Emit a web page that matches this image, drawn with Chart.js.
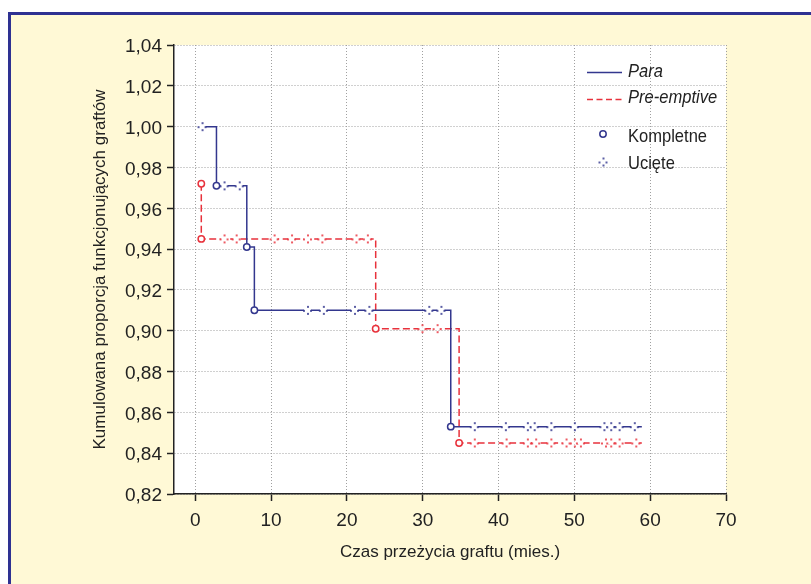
<!DOCTYPE html>
<html>
<head>
<meta charset="utf-8">
<script src="https://cdn.jsdelivr.net/npm/chart.js@4/dist/chart.umd.min.js"></script>
<style>
  html, body { margin: 0; padding: 0; background: #ffffff; overflow: hidden; }
  #frame { position: absolute; left: 8px; top: 12px; width: 900px; height: 700px;
           background: #fff9d6; border-left: 3px solid #2e3192; border-top: 3px solid #2e3192; }
  #wrap { position: absolute; left: 0; top: 0; width: 811px; height: 584px; }
</style>
</head>
<body>
<div id="frame"></div>
<div id="wrap"><canvas id="c" width="811" height="584"></canvas></div>
<script>
// ---- data ----
const xTicks = [0, 10, 20, 30, 40, 50, 60, 70];
const yTicks = [0.82, 0.84, 0.86, 0.88, 0.90, 0.92, 0.94, 0.96, 0.98, 1.00, 1.02, 1.04];

const seriesNames = ['Para', 'Pre-emptive'];
const markerNames = ['Kompletne', 'Ucięte'];

// Kaplan-Meier step curves: time (months) and cumulative proportion
const paraTimes = [0.9, 2.8, 6.8, 7.8, 33.7, 58.9];
const paraSurv  = [1.000, 0.971, 0.941, 0.910, 0.853, 0.853];
const preTimes  = [0.8, 0.8, 23.8, 34.8, 58.9];
const preSurv   = [0.972, 0.945, 0.901, 0.845, 0.845];

// complete (event) times
const paraEvents = [2.8, 6.8, 7.8, 33.7];
const preEventTimes = [0.8, 0.8, 23.8, 34.8];
const preEventSurv  = [0.972, 0.945, 0.901, 0.845];

// censored times
const paraCensored = [0.9, 3.8, 5.8, 14.8, 16.9, 21.0, 22.9, 30.8, 32.4,
                      36.8, 40.9, 43.8, 44.7, 46.9, 50.0, 53.9, 54.8, 55.9, 57.9];
const preCensored  = [3.8, 5.4, 10.4, 12.7, 14.8, 16.7, 21.2, 22.7, 29.9, 31.9,
                      36.8, 41.0, 43.8, 44.9, 46.9, 48.9, 50.0, 50.8, 54.1, 54.8, 55.9, 58.1];

// ---- styles ----
const BLUE = '#33378e';
const RED = '#e8323c';
const FONT = "'Liberation Sans', Arial, sans-serif";

function survAt(times, surv, t) {
  let v = surv[0];
  for (let i = 0; i < times.length; i++) if (times[i] <= t) v = surv[i];
  return v;
}
function toPts(xs, ys) { return xs.map((x, i) => ({ x: x, y: ys[i] })); }

function censorMark(color) {
  const c = document.createElement('canvas');
  c.width = 11; c.height = 11;
  const g = c.getContext('2d');
  g.fillStyle = '#ffffff';
  g.fillRect(2, 4, 7, 3);
  g.fillStyle = color;
  g.globalAlpha = 0.8;
  [[5, 1], [5, 8], [1, 5], [8, 5]].forEach(p => g.fillRect(p[0], p[1], 2, 2));
  return c;
}
const censorBlue = censorMark(BLUE);
const censorRed = censorMark(RED);

const plotBg = {
  id: 'plotBg',
  beforeDraw(chart) {
    const a = chart.chartArea, ctx = chart.ctx;
    ctx.save();
    ctx.fillStyle = '#ffffff';
    ctx.fillRect(a.left, a.top, a.right - a.left, a.bottom - a.top);
    ctx.restore();
  }
};

function narrowText(ctx, text, x, y, sx) {
  ctx.save();
  ctx.translate(x, y);
  ctx.scale(sx, 1);
  ctx.fillText(text, 0, 0);
  ctx.restore();
}

const legendPlugin = {
  id: 'kmLegend',
  afterDatasetsDraw(chart) {
    const ctx = chart.ctx;
    ctx.save();
    ctx.textBaseline = 'middle';
    ctx.textAlign = 'left';
    const tx = 628, sx = 0.87;
    // Para line
    ctx.strokeStyle = BLUE; ctx.lineWidth = 1.5; ctx.setLineDash([]);
    ctx.beginPath(); ctx.moveTo(587, 72.5); ctx.lineTo(622, 72.5); ctx.stroke();
    ctx.fillStyle = '#222';
    ctx.font = 'italic 19px ' + FONT;
    narrowText(ctx, seriesNames[0], tx, 71.5, sx);
    // Pre-emptive dashed
    ctx.strokeStyle = RED; ctx.setLineDash([6, 3.5]);
    ctx.beginPath(); ctx.moveTo(587, 99.5); ctx.lineTo(622, 99.5); ctx.stroke();
    ctx.setLineDash([]);
    narrowText(ctx, seriesNames[1], tx, 97.5, sx);
    // Kompletne circle
    ctx.beginPath(); ctx.arc(603, 134, 3.2, 0, Math.PI * 2);
    ctx.fillStyle = '#fff'; ctx.fill();
    ctx.strokeStyle = BLUE; ctx.lineWidth = 1.5; ctx.stroke();
    ctx.fillStyle = '#222';
    ctx.font = '19px ' + FONT;
    narrowText(ctx, markerNames[0], tx, 137, sx);
    // Ucięte marker
    ctx.drawImage(censorBlue, 603 - 5.5, 162 - 5.5);
    narrowText(ctx, markerNames[1], tx, 163.5, sx);
    ctx.restore();
  }
};

const ctx = document.getElementById('c').getContext('2d');
new Chart(ctx, {
  type: 'scatter',
  data: {
    datasets: [
      { label: 'Para kompletne', data: paraEvents.map(t => ({ x: t, y: survAt(paraTimes, paraSurv, t) })),
        showLine: false, pointStyle: 'circle', pointRadius: 3.2, pointBackgroundColor: '#fff',
        pointBorderColor: BLUE, pointBorderWidth: 1.5 },
      { label: 'Pre-emptive kompletne', data: toPts(preEventTimes, preEventSurv),
        showLine: false, pointStyle: 'circle', pointRadius: 3.2, pointBackgroundColor: '#fff',
        pointBorderColor: RED, pointBorderWidth: 1.5 },
      { label: 'Para ucięte', data: paraCensored.map(t => ({ x: t, y: survAt(paraTimes, paraSurv, t) })),
        showLine: false, pointStyle: censorBlue, pointRadius: 5 },
      { label: 'Pre-emptive ucięte', data: preCensored.map(t => ({ x: t, y: survAt(preTimes, preSurv, t) })),
        showLine: false, pointStyle: censorRed, pointRadius: 5 },
      { label: seriesNames[0], data: toPts(paraTimes, paraSurv), showLine: true, stepped: 'before',
        borderColor: BLUE, borderWidth: 1.5, pointRadius: 0, fill: false },
      { label: seriesNames[1], data: toPts(preTimes, preSurv), showLine: true, stepped: 'before',
        borderColor: RED, borderWidth: 1.5, borderDash: [7, 3.5], pointRadius: 0, fill: false }
    ]
  },
  options: {
    responsive: false,
    animation: false,
    events: [],
    layout: { padding: { left: 0, top: 45, right: 85, bottom: 0 } },
    plugins: { legend: { display: false }, tooltip: { enabled: false } },
    scales: {
      x: {
        type: 'linear', min: -2.8, max: 70,
        afterBuildTicks(s) { s.ticks = xTicks.map(v => ({ value: v })); },
        afterFit(s) { s.height = 90; },
        ticks: { color: '#222', font: { family: FONT, size: 19 }, padding: 8,
                 callback: v => String(v) },
        grid: { color: '#a0a0a0', lineWidth: 1, tickColor: '#222', tickLength: 7, tickWidth: 1.5, tickBorderDash: [] },
        border: { color: '#222', width: 1.5, dash: [1, 2] },
        title: { display: true, text: 'Czas przeżycia graftu (mies.)', color: '#222',
                 font: { family: FONT, size: 17 }, padding: { top: 0, bottom: 21 } }
      },
      y: {
        type: 'linear', min: 0.82, max: 1.04,
        afterBuildTicks(s) { s.ticks = yTicks.map(v => ({ value: v })); },
        afterFit(s) { s.width = 174; },
        ticks: { color: '#222', font: { family: FONT, size: 19 }, padding: 5, labelOffset: 2,
                 callback: v => v.toFixed(2).replace('.', ',') },
        grid: { color: '#a0a0a0', lineWidth: 1, tickColor: '#222', tickLength: 7, tickWidth: 1.5, tickBorderDash: [] },
        border: { color: '#222', width: 1.5, dash: [1, 2] },
        title: { display: true, text: 'Kumulowana proporcja funkcjonujących graftów', color: '#222',
                 font: { family: FONT, size: 17 }, padding: { top: 90, bottom: 0 } }
      }
    }
  },
  plugins: [plotBg, legendPlugin]
});
</script>
</body>
</html>
